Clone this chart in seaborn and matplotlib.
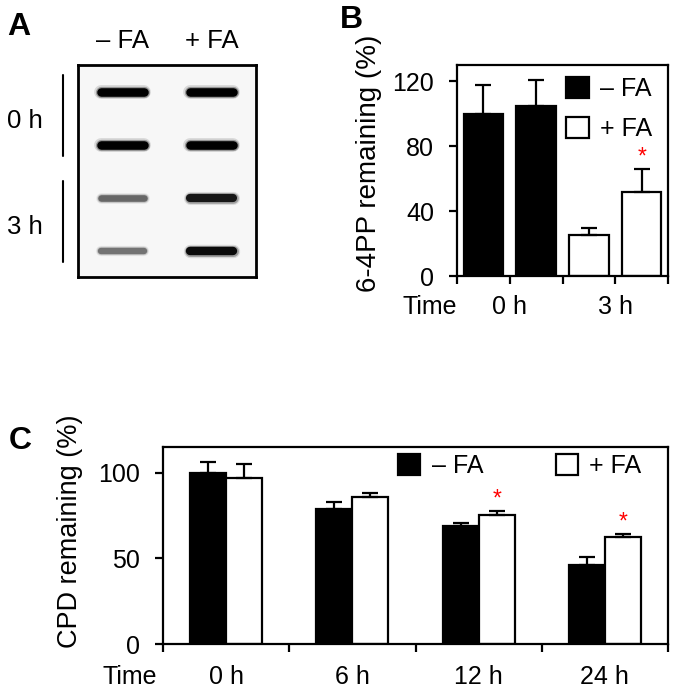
import numpy as np
import pandas as pd
import seaborn as sns
import matplotlib.pyplot as plt
from matplotlib import transforms
from matplotlib.patches import Patch

# ---- data ----
# panel A: slot blot, band darkness per lane (1 = saturated)
lanes = ['– FA', '+ FA']
rows_a = ['0 h', '0 h', '3 h', '3 h']
band_minus = [1.0, 1.0, 0.55, 0.5]
band_plus = [1.0, 1.0, 0.9, 0.95]

# panel B: 6-4PP remaining (%)
b_times = ['0 h', '3 h']
b_bars = ['b1', 'b2', 'b3', 'b4']
b_group = ['– FA', '– FA', '+ FA', '+ FA']
b_values = [100, 105, 25, 52]
b_err = [17.5, 15.5, 4.5, 14]
b_star = [False, False, False, True]

# panel C: CPD remaining (%)
c_times = ['0 h', '6 h', '12 h', '24 h']
c_minus = [100, 79, 69, 46]
c_minus_err = [6, 4, 1.8, 5]
c_plus = [97, 86, 75.5, 62.5]
c_plus_err = [8, 2.3, 2.2, 1.8]
c_star = [False, False, True, True]

pal = {'– FA': 'black', '+ FA': 'white'}
FS = 18
LW = 1.6

sns.set_theme(style='ticks')
plt.rcParams['font.family'] = ['Liberation Sans', 'DejaVu Sans']
plt.rcParams.update({'axes.linewidth': LW, 'axes.edgecolor': 'black',
                     'xtick.major.width': LW, 'ytick.major.width': LW,
                     'xtick.major.size': 5.5, 'ytick.major.size': 5.5,
                     'xtick.color': 'black', 'ytick.color': 'black',
                     'font.size': FS, 'text.color': 'black', 'axes.labelcolor': 'black'})

fig = plt.figure(figsize=(6.77, 6.91), dpi=100)
W, H = 677, 691


def px_axes(l, t, r, b):
    return fig.add_axes([l / W, 1 - b / H, (r - l) / W, (b - t) / H])


def legend_handles():
    return [Patch(facecolor=pal[g], edgecolor='black', lw=LW, label=g) for g in pal]


# ---- panel A ----
axA = px_axes(78, 65, 256, 277)
axA.set_facecolor('#f7f7f7')
axA.set_xlim(-0.5, 1.5)
axA.set_ylim(len(rows_a) - 0.5, -0.5)
for lane, vals in enumerate([band_minus, band_plus]):
    for row, v in enumerate(vals):
        g = 0.9 * (1 - v)
        core = 3.0 + 3.2 * v
        for scale, a in [(1.6, 0.12), (1.3, 0.3), (1.0, 1.0)]:
            axA.plot([lane - 0.24, lane + 0.24], [row, row], color=str(g),
                     lw=core * scale, alpha=a, solid_capstyle='round')
axA.xaxis.tick_top()
axA.set_xticks(range(len(lanes)), lanes)
axA.set_yticks([])
axA.tick_params(axis='x', length=0, pad=9, labelsize=18.5)
for s in axA.spines.values():
    s.set_linewidth(2.0)

trans = transforms.blended_transform_factory(axA.transAxes, axA.transData)
for lab in dict.fromkeys(rows_a):
    idx = [i for i, r in enumerate(rows_a) if r == lab]
    axA.plot([-0.084, -0.084], [idx[0] - 0.32, idx[-1] + 0.22], transform=trans,
             color='black', lw=1.5, clip_on=False)
    axA.text(-0.30, np.mean(idx) + 0.05, lab, transform=trans, ha='center', va='center', fontsize=18.5)

fig.text(19 / W, 1 - 27 / H, 'A', weight='bold', fontsize=23, ha='center', va='center')

# ---- panel B ----
axB = px_axes(457, 65, 668, 276)
dfB = pd.DataFrame({'bar': b_bars, 'value': b_values, 'group': b_group})
sns.barplot(data=dfB, x='bar', y='value', hue='group', palette=pal, dodge=False,
            width=0.75, edgecolor='black', linewidth=LW, errorbar=None, legend=False, ax=axB)
xb = np.arange(len(b_bars))
axB.errorbar(xb, b_values, yerr=[np.zeros(len(xb)), b_err], fmt='none', ecolor='black',
             elinewidth=LW, capsize=6, capthick=LW)
for i, s in enumerate(b_star):
    if s:
        axB.annotate('*', xy=(xb[i], b_values[i] + b_err[i]), xytext=(0, 0),
                     textcoords='offset points', ha='center', va='bottom', color='red', fontsize=16.5)
axB.set_xlim(-0.5, len(b_bars) - 0.5)
axB.set_xticks(np.arange(-0.5, len(b_bars), 1), ['', b_times[0], '', b_times[1], ''])
axB.set_ylim(0, 130)
axB.set_yticks([0, 40, 80, 120])
axB.tick_params(axis='x', pad=8, labelsize=FS)
axB.tick_params(axis='y', labelsize=FS, pad=11)
axB.set_xlabel('')
axB.set_ylabel('6-4PP remaining (%)', fontsize=20)
axB.yaxis.set_label_coords(-0.355, 0.536)
axB.legend(handles=legend_handles(), loc='upper left', bbox_to_anchor=(0.517, 0.943), frameon=False,
           handlelength=0.9, handleheight=0.9, handletextpad=0.45, labelspacing=0.65,
           borderpad=0, borderaxespad=0, fontsize=FS)
axB.annotate('Time', xy=(0, 0), xycoords='axes fraction', xytext=(0, -13.7),
             textcoords='offset points', ha='right', va='top', fontsize=FS)
fig.text(351 / W, 1 - 20 / H, 'B', weight='bold', fontsize=23, ha='center', va='center')

# ---- panel C ----
axC = px_axes(163, 447, 668, 644)
dfC = pd.DataFrame({'time': c_times * 2, 'value': c_minus + c_plus,
                    'group': ['– FA'] * len(c_times) + ['+ FA'] * len(c_times)})
sns.barplot(data=dfC, x='time', y='value', hue='group', palette=pal, width=0.57, gap=0,
            edgecolor='black', linewidth=LW, errorbar=None, legend=False, ax=axC)
xc = [p.get_x() + p.get_width() / 2 for p in axC.patches]
vc = c_minus + c_plus
ec = c_minus_err + c_plus_err
axC.errorbar(xc, vc, yerr=[np.zeros(len(xc)), ec], fmt='none', ecolor='black',
             elinewidth=LW, capsize=5.5, capthick=LW)
for i, s in enumerate(c_star):
    if s:
        j = len(c_times) + i
        axC.annotate('*', xy=(xc[j], vc[j] + ec[j]), xytext=(0, 0),
                     textcoords='offset points', ha='center', va='bottom', color='red', fontsize=16.5)
axC.set_xlim(-0.5, len(c_times) - 0.5)
axC.set_xticks(np.arange(-0.5, len(c_times), 1), [''] * (len(c_times) + 1))
axC.set_xticks(range(len(c_times)), c_times, minor=True)
axC.tick_params(axis='x', which='minor', length=0, pad=15, labelsize=FS)
axC.set_ylim(0, 115)
axC.set_yticks([0, 50, 100])
axC.tick_params(axis='y', labelsize=FS, pad=11)
axC.set_xlabel('')
axC.set_ylabel('CPD remaining (%)', fontsize=19.5)
axC.yaxis.set_label_coords(-0.158, 0.574)
axC.legend(handles=legend_handles(), ncol=2, loc='upper left', bbox_to_anchor=(0.4653, 0.964),
           frameon=False, handlelength=0.9, handleheight=0.9, handletextpad=0.45,
           columnspacing=2.9, borderpad=0, borderaxespad=0, fontsize=FS)
axC.annotate('Time', xy=(0, 0), xycoords='axes fraction', xytext=(-4.3, -15),
             textcoords='offset points', ha='right', va='top', fontsize=FS)
fig.text(20 / W, 1 - 441 / H, 'C', weight='bold', fontsize=23, ha='center', va='center')

fig.savefig('out.png', dpi=100)
